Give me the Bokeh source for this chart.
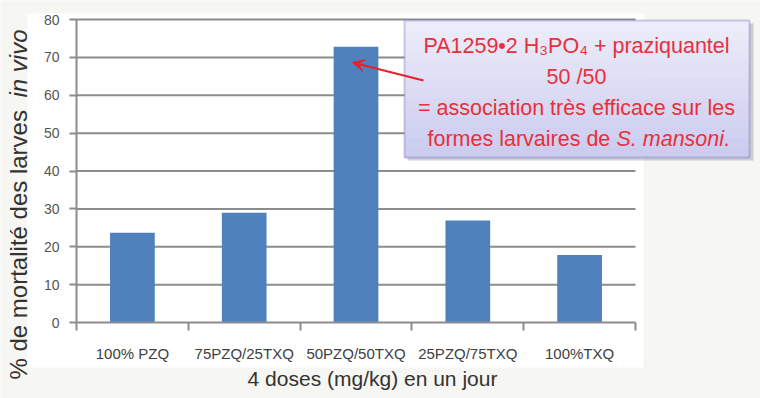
import numpy as np
from bokeh.plotting import figure
from bokeh.models import (Range1d, FixedTicker, BoxAnnotation, Label, Arrow,
                          VeeHead, ColumnDataSource)
from bokeh.embed import file_html
from bokeh.resources import INLINE

# ---- data ----
categories = ["100% PZQ", "75PZQ/25TXQ", "50PZQ/50TXQ", "25PZQ/75TXQ", "100%TXQ"]
mortality = [23.7, 29.0, 72.8, 26.9, 17.8]
y_ticks = [0, 10, 20, 30, 40, 50, 60, 70, 80]

x_title = "4 doses (mg/kg) en un jour"
y_title_plain = "% de mortalité des larves "
y_title_italic = "in vivo"

box_line1 = "PA1259•2 H₃PO₄ + praziquantel"
box_line2 = "50 /50"
box_line3 = "= association très efficace sur les"
box_line4a = "formes larvaires de "
box_line4b = "S. mansoni"
box_line4c = "."

W, H = 760, 398
FL, FT, FR, FB = 76, 19, 635, 322   # chart area edges in canvas px
ncat = len(categories)
ymax = y_ticks[-1]
px_x = (FR - FL) / ncat
px_y = (FB - FT) / ymax

def sx(X):
    return X

def sy(Y):
    return H - Y

centers = [i + 0.5 for i in range(ncat)]
src = ColumnDataSource(dict(x=centers, top=mortality))

p = figure(width=W, height=H, output_backend="svg", toolbar_location=None,
           x_range=Range1d(-FL / px_x, (W - FL) / px_x),
           y_range=Range1d(-(H - FB) / px_y, FB / px_y),
           min_border=0)
p.background_fill_color = "#f6f6f2"
p.border_fill_color = "#f6f6f2"
p.outline_line_color = None
p.xgrid.visible = False
p.ygrid.visible = False

# white panel behind the chart
p.add_layout(BoxAnnotation(left=sx(27), right=sx(643), top=sy(13), bottom=sy(367),
                           left_units="screen", right_units="screen",
                           top_units="screen", bottom_units="screen",
                           fill_color="white", fill_alpha=1, line_color=None,
                           level="underlay"))

# horizontal grid lines
gy = y_ticks[1:]
p.segment(x0=[0] * len(gy), x1=[ncat] * len(gy), y0=gy, y1=gy,
          line_color="#8c8c8c", line_width=2)

p.vbar(x="x", top="top", width=0.4, source=src, fill_color="#4f81bd", line_color=None)

# axes (placed inside the canvas at the data origin)
p.yaxis.fixed_location = 0
p.yaxis.bounds = (0, ymax)
p.yaxis.ticker = FixedTicker(ticks=y_ticks)
p.yaxis.axis_line_color = "#8c8c8c"
p.yaxis.axis_line_width = 2
p.yaxis.major_tick_line_color = "#8c8c8c"
p.yaxis.major_tick_line_width = 2
p.yaxis.major_tick_out = 7
p.yaxis.major_tick_in = 0
p.yaxis.minor_tick_line_color = None
p.yaxis.major_label_text_font = "Liberation Sans"
p.yaxis.major_label_text_font_size = "14px"
p.yaxis.major_label_text_color = "#555555"
p.yaxis.major_label_standoff = 10

p.xaxis.fixed_location = 0
p.xaxis.bounds = (0, ncat)
p.xaxis.ticker = FixedTicker(ticks=centers, minor_ticks=list(range(ncat + 1)))
p.xaxis.major_label_overrides = {c: lab for c, lab in zip(centers, categories)}
p.xaxis.axis_line_color = "#8c8c8c"
p.xaxis.axis_line_width = 2
p.xaxis.major_tick_line_color = None
p.xaxis.major_tick_out = 0
p.xaxis.major_tick_in = 0
p.xaxis.minor_tick_line_color = "#8c8c8c"
p.xaxis.minor_tick_line_width = 2
p.xaxis.minor_tick_out = 8
p.xaxis.minor_tick_in = 0
p.xaxis.major_label_text_font = "Liberation Sans"
p.xaxis.major_label_text_font_size = "15px"
p.xaxis.major_label_text_color = "#404040"
p.xaxis.major_label_standoff = 14

# axis titles
p.add_layout(Label(x=sx(372), y=sy(378), x_units="screen", y_units="screen",
                   text=x_title, text_align="center", text_baseline="middle",
                   text_font="Liberation Sans", text_font_size="21px",
                   text_color="#333333"))
p.add_layout(Label(x=sx(18), y=sy(379), x_units="screen", y_units="screen",
                   text=y_title_plain, angle=np.pi / 2, text_align="left",
                   text_baseline="middle", text_font="Liberation Sans",
                   text_font_size="24px", text_color="#333333"))
p.add_layout(Label(x=sx(18), y=sy(97), x_units="screen", y_units="screen",
                   text=y_title_italic, angle=np.pi / 2, text_align="left",
                   text_baseline="middle", text_font="Liberation Sans",
                   text_font_size="24px", text_font_style="italic",
                   text_color="#333333"))

# annotation box: shadow, gradient fill, border
p.add_layout(BoxAnnotation(left=sx(407), right=sx(753), top=sy(23), bottom=sy(160),
                           left_units="screen", right_units="screen",
                           top_units="screen", bottom_units="screen",
                           fill_color="#9a9aa8", fill_alpha=0.45, line_color=None))
top_c = np.array([0xee, 0xee, 0xfb])
bot_c = np.array([0xcb, 0xcb, 0xef])
n = 14
y0, y1 = 20.0, 157.0
for i in range(n):
    t = (i + 0.5) / n
    c = (top_c * (1 - t) + bot_c * t).astype(int)
    col = "#%02x%02x%02x" % tuple(c)
    a = y0 + (y1 - y0) * i / n
    b = y0 + (y1 - y0) * (i + 1) / n
    p.add_layout(BoxAnnotation(left=sx(404), right=sx(749), top=sy(a), bottom=sy(b + 0.6),
                               left_units="screen", right_units="screen",
                               top_units="screen", bottom_units="screen",
                               fill_color=col, fill_alpha=1, line_color=None))
p.add_layout(BoxAnnotation(left=sx(404), right=sx(749), top=sy(20), bottom=sy(157),
                           left_units="screen", right_units="screen",
                           top_units="screen", bottom_units="screen",
                           fill_alpha=0, line_color="#5c5cb2", line_width=2))

red = "#e8303c"
for txt, Y in [(box_line1, 45), (box_line2, 76), (box_line3, 107)]:
    p.add_layout(Label(x=sx(576), y=sy(Y), x_units="screen", y_units="screen",
                       text=txt, text_align="center", text_baseline="middle",
                       text_font="Liberation Sans", text_font_size="21.5px",
                       text_color=red))
p.add_layout(Label(x=sx(427), y=sy(138), x_units="screen", y_units="screen",
                   text=box_line4a, text_align="left", text_baseline="middle",
                   text_font="Liberation Sans", text_font_size="21.5px", text_color=red))
p.add_layout(Label(x=sx(616), y=sy(138), x_units="screen", y_units="screen",
                   text=box_line4b, text_align="left", text_baseline="middle",
                   text_font="Liberation Sans", text_font_size="21.5px",
                   text_font_style="italic", text_color=red))
p.add_layout(Label(x=sx(723), y=sy(138), x_units="screen", y_units="screen",
                   text=box_line4c, text_align="left", text_baseline="middle",
                   text_font="Liberation Sans", text_font_size="21.5px", text_color=red))

# arrow pointing to the tallest bar
p.add_layout(Arrow(x_start=sx(423), y_start=sy(80), x_end=sx(352), y_end=sy(62),
                   start_units="screen", end_units="screen",
                   line_color="#e8202a", line_width=2,
                   end=VeeHead(size=12, fill_color="#e8202a", line_color="#e8202a")))

open("out.html", "w").write(file_html(p, INLINE))
